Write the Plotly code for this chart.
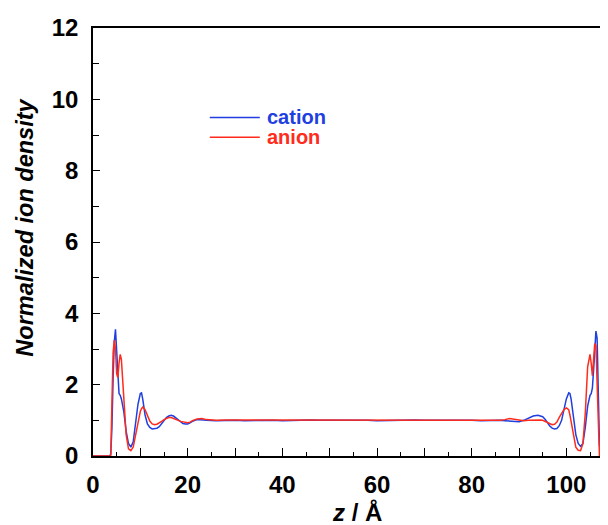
import plotly.graph_objects as go

# ---- data ----
z_left = [0, 3.5, 3.75, 4.0, 4.25, 4.5, 4.75, 5.0, 5.25, 5.5, 5.75, 6.0,
          6.5, 7.0, 7.5, 8.0, 8.5, 9.0, 9.5, 10.0,
          10.25, 10.5, 11.0, 11.5, 12.0, 12.5, 13.0, 13.5, 14.0, 14.5, 15.0,
          15.5, 16.0, 16.5, 17.0, 17.5, 18.0, 18.5, 19.0, 19.5, 20.0,
          20.5, 21, 22, 23, 24, 26, 28]
cation_left = [0, 0, 0.05, 0.8, 2.2, 3.2, 3.55, 2.9, 2.1, 1.75, 1.7, 1.6,
               1.25, 0.7, 0.35, 0.25, 0.4, 0.9, 1.45, 1.75,
               1.77, 1.6, 1.15, 0.9, 0.8, 0.76, 0.76, 0.78, 0.82, 0.9, 1.0,
               1.08, 1.12, 1.14, 1.12, 1.07, 1.0, 0.95, 0.91, 0.9, 0.9,
               0.93, 0.97, 1.02, 1.02, 1.0, 0.99, 1.0]
anion_left = [0, 0, 0, 1.5, 2.9, 3.25, 3.0, 2.3, 2.2, 2.6, 2.85, 2.7,
              1.6, 0.6, 0.2, 0.15, 0.25, 0.6, 1.0, 1.25,
              1.33, 1.37, 1.3, 1.12, 0.98, 0.9, 0.88, 0.89, 0.92, 0.97, 1.02,
              1.06, 1.08, 1.08, 1.06, 1.03, 1.0, 0.97, 0.95, 0.94, 0.93,
              0.95, 0.99, 1.04, 1.05, 1.02, 1.0, 1.01]

z_bulk = [30, 32, 34, 36, 38, 40, 42, 44, 46, 48, 50, 52, 54, 56,
          58, 60, 62, 64, 66, 68, 70, 72, 74, 76, 78, 80, 82, 84]
cation_bulk = [1.0, 0.99, 1.0, 1.01, 1.0, 0.99, 1.0, 1.0, 1.01, 1.0, 0.99, 1.0, 1.0, 1.01,
               1.0, 0.99, 1.0, 1.0, 1.0, 1.01, 1.0, 0.99, 1.0, 1.0, 1.01, 1.0, 0.99, 1.0]
anion_bulk = [1.01, 1.0, 1.0, 0.99, 1.0, 1.01, 1.0, 0.99, 1.0, 1.0, 1.01, 1.0, 0.99, 1.0,
              1.0, 1.01, 1.0, 0.99, 1.0, 1.0, 1.0, 1.01, 1.0, 0.99, 1.0, 1.0, 1.01, 1.0]

z_right = [86, 87, 88, 89, 90, 91, 92, 93, 94,
           94.5, 95, 95.5, 96, 96.5, 97, 97.5, 98, 98.5, 99, 99.5, 100,
           100.5, 100.75, 101, 101.5, 102, 102.5, 103, 103.5, 104, 104.5, 105,
           105.25, 105.5, 105.75, 106, 106.25, 106.5, 106.75, 107, 107.25, 110]
cation_right = [1.0, 0.99, 0.98, 0.96, 0.96, 1.0, 1.06, 1.12, 1.14,
                1.13, 1.1, 1.03, 0.93, 0.84, 0.78, 0.76, 0.77, 0.85, 1.0, 1.3, 1.6,
                1.77, 1.75, 1.6, 1.1, 0.6, 0.35, 0.27, 0.35, 0.8, 1.4, 1.7,
                1.75, 1.9, 2.4, 3.0, 3.5, 3.3, 1.8, 0.3, 0, 0]
anion_right = [1.0, 1.02, 1.05, 1.03, 1.0, 0.99, 1.0, 1.01, 1.02,
               1.01, 1.0, 0.97, 0.92, 0.89, 0.88, 0.89, 0.95, 1.08, 1.2, 1.3, 1.35,
               1.3, 1.15, 0.95, 0.55, 0.25, 0.16, 0.15, 0.35, 1.2, 2.5, 2.85,
               2.6, 2.25, 2.7, 3.15, 3.1, 2.3, 1.0, 0, 0, 0]

series_names = ["cation", "anion"]
series_colors = ["#1f3fe0", "#ff2b1c"]

x_tickvals = [0, 10, 20, 30, 40, 50, 60, 70, 80, 90, 100]
x_ticktext = ["0", "", "20", "", "40", "", "60", "", "80", "", "100"]
x_minor = [5, 15, 25, 35, 45, 55, 65, 75, 85, 95, 105]
y_tickvals = [0, 2, 4, 6, 8, 10, 12]
y_minor = [1, 3, 5, 7, 9, 11]

z_all = z_left + z_bulk + z_right
cation = cation_left + cation_bulk + cation_right
anion = anion_left + anion_bulk + anion_right

FONT = "Liberation Sans, Arial, Helvetica, sans-serif"

fig = go.Figure()
for name, ys, col in zip(series_names, [cation, anion], series_colors):
    fig.add_trace(go.Scatter(x=z_all, y=ys, mode="lines", name=name,
                             line=dict(color=col, width=1.5), showlegend=False))

# page body has an 8px margin, so the figure is 600x517 to fill the 608x525 window
fig.update_layout(
    width=600, height=517,
    margin=dict(l=85.3, r=0, t=20, b=69),
    paper_bgcolor="white", plot_bgcolor="white",
    font=dict(family=FONT, color="black"),
)
fig.update_xaxes(
    range=[0, 108.8], showgrid=False, zeroline=False,
    showline=True, linecolor="black", linewidth=1.5, mirror=True,
    ticks="inside", ticklen=8, tickwidth=1.2, tickcolor="black",
    tickmode="array", tickvals=x_tickvals, ticktext=x_ticktext,
    tickfont=dict(size=24, family=FONT, color="black", weight="bold"),
    ticklabelstandoff=6,
    minor=dict(tickmode="array", tickvals=x_minor, ticks="inside", ticklen=4,
               tickwidth=1.2, tickcolor="black"),
)
fig.update_yaxes(
    range=[0, 12], showgrid=False, zeroline=False,
    showline=True, linecolor="black", linewidth=1.5, mirror=False,
    ticks="inside", ticklen=7, tickwidth=1.2, tickcolor="black",
    tickmode="array", tickvals=y_tickvals,
    tickfont=dict(size=24, family=FONT, color="black", weight="bold"),
    ticklabelstandoff=8,
    minor=dict(tickmode="array", tickvals=y_minor, ticks="inside", ticklen=6,
               tickwidth=1.2, tickcolor="black"),
)

# axis titles
fig.add_annotation(text="<b><i>z</i> / Å</b>", xref="paper", yref="paper",
                   x=0.512, y=-0.132, xanchor="center", yanchor="middle",
                   showarrow=False, font=dict(size=24, family=FONT, color="black"))
fig.add_annotation(text="<b><i>Normalized ion density</i></b>", xref="paper", yref="paper",
                   x=-0.1327, y=0.535, xanchor="center", yanchor="middle",
                   textangle=-90, showarrow=False,
                   font=dict(size=23.5, family=FONT, color="black"))

# legend (drawn manually to match the compact original)
leg_y = [0.791, 0.745]
for name, col, yy in zip(series_names, series_colors, leg_y):
    fig.add_shape(type="line", xref="paper", yref="paper",
                  x0=0.2267, x1=0.3239, y0=yy, y1=yy,
                  line=dict(color=col, width=1.5))
    fig.add_annotation(text="<b>" + name + "</b>", xref="paper", yref="paper",
                       x=0.3334, y=yy, xanchor="left", yanchor="middle",
                       showarrow=False, font=dict(size=20, family=FONT, color=col))

fig.write_html("out.html")
